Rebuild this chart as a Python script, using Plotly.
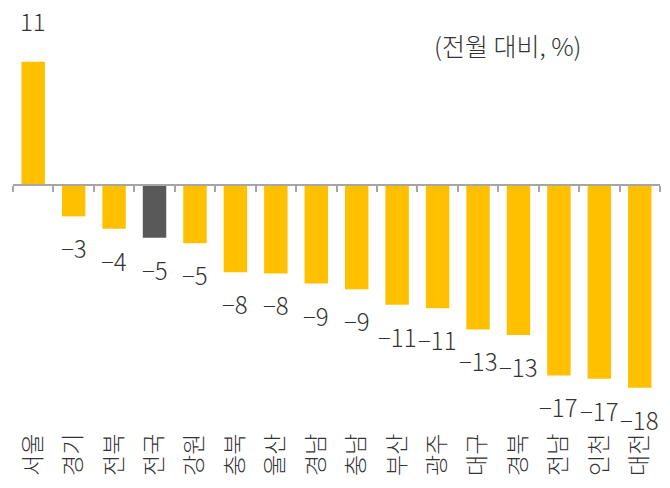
import plotly.graph_objects as go

regions = ["서울", "경기", "전북", "전국", "강원", "충북", "울산", "경남",
           "충남", "부산", "광주", "대구", "경북", "전남", "인천", "대전"]
values = [11.0, -2.8, -3.9, -4.7, -5.2, -7.8, -7.9, -8.8,
          -9.3, -10.7, -11.0, -12.9, -13.4, -17.0, -17.3, -18.1]
labels = ["11", "−3", "−4", "−5", "−5", "−8", "−8", "−9",
          "−9", "−11", "−11", "−13", "−13", "−17", "−17", "−18"]
highlight = "전국"

YELLOW = "#FFC000"
GRAY = "#595959"
AXIS = "#A6A6A6"
TEXT = "#333333"
FONT = "Noto Sans CJK KR"

colors = [GRAY if r == highlight else YELLOW for r in regions]

y_min, y_max = -20.09, 15.63
zero_pos = (0 - y_min) / (y_max - y_min)

fig = go.Figure()
fig.add_trace(go.Bar(
    x=regions, y=values, marker=dict(color=colors, line=dict(width=0)),
    showlegend=False, hoverinfo="skip",
))
# invisible helper trace for the zero-line category axis with boundary ticks
fig.add_trace(go.Scatter(
    x=regions, y=[0] * len(regions), xaxis="x2", mode="markers",
    marker=dict(opacity=0), showlegend=False, hoverinfo="skip",
))

annotations = []
for r, v, t in zip(regions, values, labels):
    annotations.append(dict(
        x=r, y=v, xref="x", yref="y", text=t, showarrow=False,
        xanchor="center", yanchor="bottom" if v >= 0 else "top",
        yshift=22 if v >= 0 else -12,
        font=dict(size=24, color=TEXT, family=FONT, weight=300),
    ))
annotations.append(dict(
    text="(전월 대비, %)", xref="paper", yref="paper",
    x=0.765, y=0.9125, xanchor="center", yanchor="middle",
    showarrow=False, font=dict(size=25, color=TEXT, family=FONT, weight=300),
))

fig.update_layout(
    width=670, height=488,
    margin=dict(l=13, r=10, t=10, b=78),
    plot_bgcolor="white", paper_bgcolor="white",
    bargap=0.42,
    font=dict(family=FONT, color=TEXT),
    xaxis=dict(
        type="category", categoryorder="array", categoryarray=regions,
        range=[-0.5, len(regions) - 0.5],
        showline=False, ticks="", showgrid=False, zeroline=False,
        tickangle=-90,
        tickfont=dict(size=23, color=TEXT, family=FONT, weight=300),
        ticklabelstandoff=18,
    ),
    xaxis2=dict(
        type="category", categoryorder="array", categoryarray=regions,
        range=[-0.5, len(regions) - 0.5],
        overlaying="x", anchor="free", position=zero_pos, side="bottom",
        showline=True, linecolor=AXIS, linewidth=2,
        ticks="outside", ticklen=6, tickwidth=2, tickcolor=AXIS,
        tickson="boundaries", showticklabels=False, showgrid=False,
        zeroline=False, layer="above traces",
    ),
    yaxis=dict(
        range=[y_min, y_max], visible=False, showgrid=False, zeroline=False,
    ),
    annotations=annotations,
)

fig.write_html("out.html")
